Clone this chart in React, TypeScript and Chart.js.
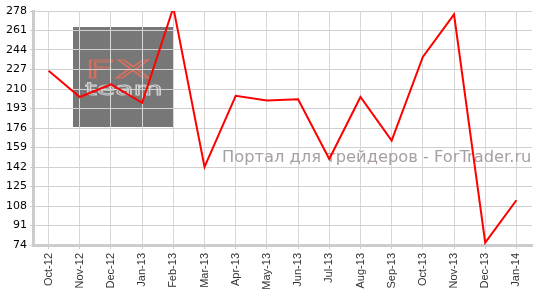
import React, { useEffect, useRef } from "react";
import { Chart, registerables } from "chart.js";

Chart.register(...registerables);

const categories = [
  "Oct-12", "Nov-12", "Dec-12", "Jan-13", "Feb-13", "Mar-13", "Apr-13", "May-13",
  "Jun-13", "Jul-13", "Aug-13", "Sep-13", "Oct-13", "Nov-13", "Dec-13", "Jan-14",
];
const seriesValues = [226, 203, 214, 198, 281, 142, 204, 200, 201, 149, 203, 165, 238, 275, 76, 113];
const yMin = 74;
const yMax = 278;
const yStep = 17;
const watermarkText = "Портал для трейдеров - ForTrader.ru";

const backgroundPlugin = {
  id: "bgMarks",
  beforeDraw(chart: any) {
    const { ctx, chartArea } = chart;
    ctx.save();
    const bx = chartArea.left + 40;
    const by = chartArea.top + 16;
    ctx.fillStyle = "#777777";
    ctx.fillRect(bx, by, 100, 100);
    // "FX" stretched outline
    ctx.save();
    ctx.translate(bx + 12, by + 51);
    ctx.scale(2.6, 1.2);
    ctx.strokeStyle = "#d9705e";
    ctx.lineWidth = 0.9;
    ctx.font = "20px 'DejaVu Sans'";
    ctx.strokeText("FX", 0, 0);
    ctx.restore();
    // "team"
    ctx.save();
    ctx.translate(bx + 12, by + 68);
    ctx.scale(1.5, 0.85);
    ctx.strokeStyle = "#d0d0d0";
    ctx.lineWidth = 1.1;
    ctx.font = "20px 'DejaVu Sans'";
    ctx.strokeText("team", 0, 0);
    ctx.restore();
    ctx.restore();
  },
  beforeDatasetsDraw(chart: any) {
    const { ctx } = chart;
    ctx.save();
    ctx.fillStyle = "#a8a0a0";
    ctx.font = "16.3px 'DejaVu Sans'";
    ctx.textAlign = "left";
    ctx.textBaseline = "alphabetic";
    ctx.fillText(watermarkText, 222, 162);
    ctx.restore();
  },
};

export default function App() {
  const ref = useRef<HTMLCanvasElement | null>(null);
  useEffect(() => {
    if (!ref.current) return;
    const chart = new Chart(ref.current, {
      type: "line",
      data: {
        labels: categories,
        datasets: [
          {
            data: seriesValues,
            borderColor: "#ff0000",
            borderWidth: 2,
            pointRadius: 0,
            tension: 0,
            fill: false,
          },
        ],
      },
      options: {
        animation: false,
        responsive: false,
        maintainAspectRatio: false,
        layout: { padding: { top: 11, right: 6, left: 0, bottom: 0 } },
        plugins: { legend: { display: false }, tooltip: { enabled: false } },
        scales: {
          x: {
            offset: true,
            grid: {
              offset: false,
              color: "#d8d8d8",
              lineWidth: 1,
              tickLength: 4,
              tickColor: "#cccccc",
            },
            border: { color: "#cccccc", width: 3 },
            ticks: {
              minRotation: 90,
              maxRotation: 90,
              autoSkip: false,
              color: "#333333",
              font: { family: "'Liberation Sans'", size: 11 },
              padding: 4,
            },
            afterFit(scale: any) {
              scale.height = 47;
            },
          },
          y: {
            min: yMin,
            max: yMax,
            grid: {
              color: "#d0d0d0",
              lineWidth: 1,
              tickLength: 3,
              tickColor: "#cccccc",
            },
            border: { color: "#cccccc", width: 3 },
            ticks: {
              stepSize: yStep,
              color: "#000000",
              font: { family: "'DejaVu Sans'", size: 11 },
              padding: 3,
            },
            afterFit(scale: any) {
              scale.width = 33;
            },
          },
        },
      },
      plugins: [backgroundPlugin],
    });
    return () => chart.destroy();
  }, []);
  return (
    <div style={{ position: "fixed", left: 0, top: 0, width: 538, height: 292, background: "#fff" }}>
      <canvas ref={ref} width={538} height={292} style={{ width: 538, height: 292 }} />
    </div>
  );
}
